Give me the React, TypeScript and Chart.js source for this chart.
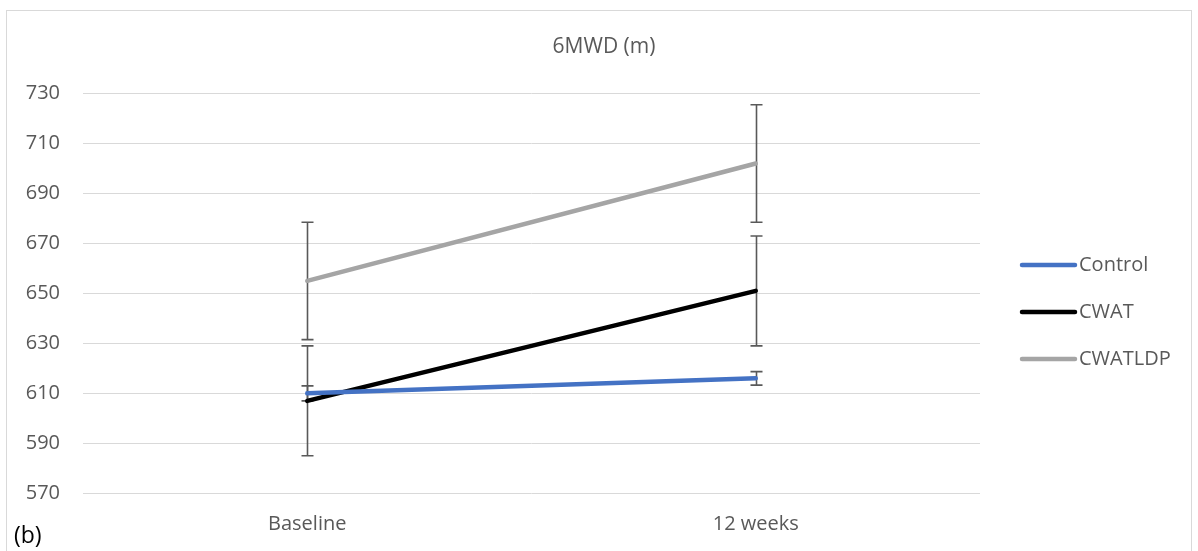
import React, { useEffect, useRef } from "react";
import { Chart, registerables } from "chart.js";

Chart.register(...registerables);

const categories = ["Baseline", "12 weeks"];
const seriesNames = ["Control", "CWAT", "CWATLDP"];
const controlValues = [610, 616];
const cwatValues = [607, 651];
const cwatldpValues = [655, 702];
const controlErrors = [3, 2.7];
const cwatErrors = [22, 22];
const cwatldpErrors = [23.5, 23.5];
const seriesColors = ["#4472C4", "#000000", "#A5A5A5"];
const yMin = 570;
const yMax = 730;
const yStep = 20;
const chartTitle = "6MWD (m)";
const panelLabel = "(b)";

const FONT = "'Open Sans', 'Noto Sans', sans-serif";
const TEXT_COLOR = "#595959";

const errorsBySeries = [controlErrors, cwatErrors, cwatldpErrors];

const errorBarPlugin = {
  id: "errorBars",
  beforeDatasetsDraw(chart: any) {
    const ctx = chart.ctx;
    const yScale = chart.scales.y;
    ctx.save();
    ctx.strokeStyle = "#595959";
    ctx.lineWidth = 1.6;
    chart.data.datasets.forEach((ds: any, i: number) => {
      const meta = chart.getDatasetMeta(i);
      const errs = errorsBySeries[i];
      meta.data.forEach((pt: any, j: number) => {
        const v = ds.data[j];
        const e = errs[j];
        const x = Math.round(pt.x) + 0.5;
        const yTop = yScale.getPixelForValue(v + e);
        const yBot = yScale.getPixelForValue(v - e);
        ctx.beginPath();
        ctx.moveTo(x, yTop);
        ctx.lineTo(x, yBot);
        ctx.moveTo(x - 6, yTop);
        ctx.lineTo(x + 6, yTop);
        ctx.moveTo(x - 6, yBot);
        ctx.lineTo(x + 6, yBot);
        ctx.stroke();
      });
    });
    ctx.restore();
  },
};

const decorPlugin = {
  id: "decor",
  afterDraw(chart: any) {
    const ctx = chart.ctx;
    ctx.save();
    // border
    ctx.strokeStyle = "#D9D9D9";
    ctx.lineWidth = 1;
    ctx.strokeRect(6.5, 10.5, 1185, 560);
    // title
    ctx.fillStyle = TEXT_COLOR;
    ctx.font = `21px ${FONT}`;
    ctx.textAlign = "center";
    ctx.textBaseline = "middle";
    ctx.fillText(chartTitle, 604, 47);
    // legend
    ctx.font = `20px ${FONT}`;
    ctx.textAlign = "left";
    const ys = [265, 312, 359];
    seriesNames.forEach((name, i) => {
      ctx.strokeStyle = seriesColors[i];
      ctx.lineWidth = 4.5;
      ctx.lineCap = "round";
      ctx.beginPath();
      ctx.moveTo(1022, ys[i]);
      ctx.lineTo(1075, ys[i]);
      ctx.stroke();
      ctx.fillStyle = TEXT_COLOR;
      ctx.fillText(name, 1079, ys[i]);
    });
    // panel label
    ctx.fillStyle = "#000000";
    ctx.font = `23px ${FONT}`;
    ctx.textAlign = "left";
    ctx.fillText(panelLabel, 14, 536);
    ctx.restore();
  },
};

export default function App() {
  const canvasRef = useRef<HTMLCanvasElement | null>(null);

  useEffect(() => {
    document.body.style.margin = "0";
    const canvas = canvasRef.current;
    if (!canvas) return;
    const valueSets = [controlValues, cwatValues, cwatldpValues];
    const chart = new Chart(canvas, {
      type: "line",
      data: {
        labels: categories,
        datasets: seriesNames.map((name, i) => ({
          label: name,
          data: valueSets[i],
          borderColor: seriesColors[i],
          backgroundColor: seriesColors[i],
          borderWidth: 4.5,
          borderCapStyle: "round",
          pointRadius: 0,
          fill: false,
          tension: 0,
        })),
      },
      options: {
        responsive: false,
        animation: false,
        layout: { padding: { left: 0, right: 218, top: 93.5, bottom: 0 } },
        plugins: {
          legend: { display: false },
          title: { display: false },
          tooltip: { enabled: false },
        },
        scales: {
          x: {
            offset: true,
            grid: { display: false, drawTicks: false },
            border: { display: false },
            ticks: {
              color: TEXT_COLOR,
              font: { family: FONT, size: 20 },
              padding: 19,
            },
            afterFit(scale: any) {
              scale.height = 57.7;
            },
          },
          y: {
            min: yMin,
            max: yMax,
            grid: { color: "#D9D9D9", lineWidth: 1, drawTicks: false },
            border: { display: false },
            ticks: {
              stepSize: yStep,
              color: TEXT_COLOR,
              font: { family: FONT, size: 20 },
              padding: 23,
            },
            afterFit(scale: any) {
              scale.width = 83;
            },
          },
        },
      },
      plugins: [errorBarPlugin, decorPlugin],
    });
    return () => chart.destroy();
  }, []);

  return (
    <div style={{ width: 1198, height: 551 }}>
      <canvas ref={canvasRef} width={1198} height={551} style={{ display: "block" }} />
    </div>
  );
}
